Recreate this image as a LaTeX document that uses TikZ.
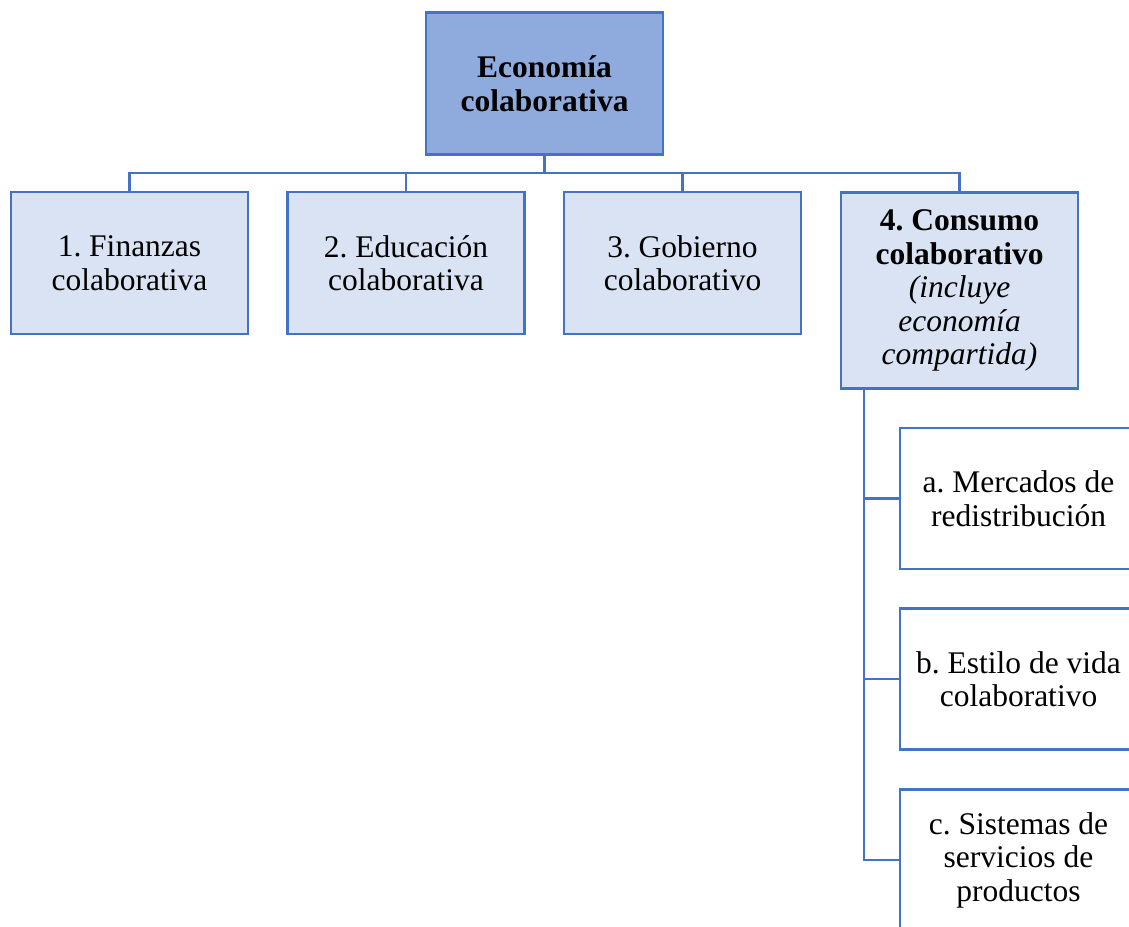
\documentclass[tikz,border=0pt]{standalone}
\usepackage{fontspec}
\setmainfont{Liberation Serif}
\frenchspacing
\definecolor{bordo}{HTML}{4472C4}
\definecolor{topfill}{HTML}{8FAADC}
\definecolor{boxfill}{HTML}{DAE3F3}
\begin{document}
\begin{tikzpicture}[x=1pt,y=-1pt,
  base/.style={draw=bordo,line width=2.5pt,rectangle,inner sep=0pt,align=center,
    minimum width=237pt,font=\fontsize{31.5}{33.5}\selectfont\frenchspacing},
  topbox/.style={base,fill=topfill,minimum height=142pt},
  lvlbox/.style={base,fill=boxfill,minimum height=142pt},
  bigbox/.style={base,fill=boxfill,minimum height=196pt},
  subbox/.style={base,fill=white,minimum height=141pt},
  conn/.style={draw=bordo,line width=2.5pt}]
\useasboundingbox (0,0) rectangle (1129,926);
\clip (0,0) rectangle (1129,926);
\node[topbox] (top) at (544.5,83.5) {\textbf{Economía}\\\textbf{colaborativa}};
\node[lvlbox] (b1) at (129.5,263) {1. Finanzas\\colaborativa};
\node[lvlbox] (b2) at (406,263) {2. Educación\\colaborativa};
\node[lvlbox] (b3) at (682.5,263) {3. Gobierno\\colaborativo};
\node[bigbox] (b4) at (959.5,290.5) {\textbf{4. Consumo}\\\textbf{colaborativo}\\\textit{(incluye}\\\textit{economía}\\\textit{compartida)}};
\node[subbox] (sa) at (1018.5,498.5) {a. Mercados de\\redistribución};
\node[subbox] (sb) at (1018.5,679) {b. Estilo de vida\\colaborativo};
\node[subbox] (sc) at (1018.5,860) {c. Sistemas de\\servicios de\\productos};
\coordinate (bus) at (544.5,173);
\coordinate (v) at (864,389);
\draw[conn] (top.south) -- (bus);
\draw[conn] (bus) -| (b1.north);
\draw[conn] (bus) -| (b2.north);
\draw[conn] (bus) -| (b3.north);
\draw[conn] (bus) -| (b4.north);
\draw[conn] (v) |- (sa.west);
\draw[conn] (v) |- (sb.west);
\draw[conn] (v) |- (sc.west);
\end{tikzpicture}
\end{document}
